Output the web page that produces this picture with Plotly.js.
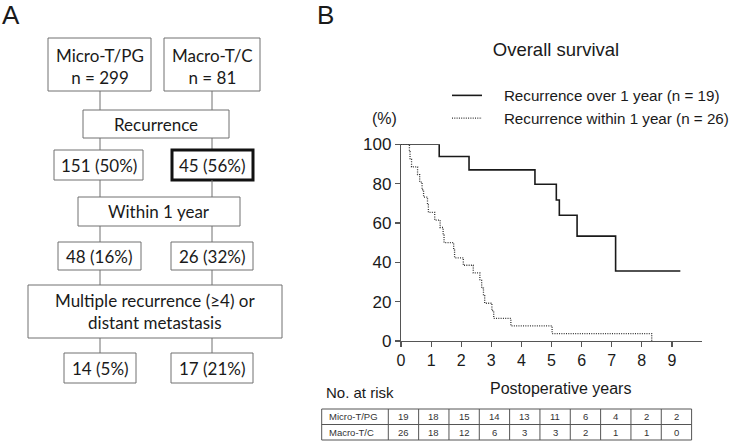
<!DOCTYPE html>
<html><head><meta charset="utf-8">
<script src="https://cdn.plot.ly/plotly-3.0.1.min.js"></script>
<style>html,body{margin:0;padding:0;background:#fff;overflow:hidden}</style>
</head><body><div id="chart" style="width:736px;height:441px"></div>
<script>
// ---- Panel B: Kaplan-Meier data ----
const seriesNames = ['Recurrence over 1 year (n = 19)', 'Recurrence within 1 year (n = 26)'];
const overTimes = [0, 1.27, 2.26, 4.45, 5.16, 5.26, 5.85, 7.13, 9.28];
const overSurv = [100, 93.8, 87.0, 79.7, 71.7, 63.9, 53.3, 35.6, 35.6];
const withinTimes = [0, 0.28, 0.30, 0.35, 0.55, 0.62, 0.70, 0.75, 0.88, 0.91, 1.12, 1.30, 1.40, 1.43, 1.75, 1.78, 2.07, 2.40, 2.62, 2.68, 2.74, 2.78, 3.02, 3.08, 3.65, 5.02, 8.33];
const withinSurv = [100, 96.2, 92.3, 88.5, 84.6, 80.8, 76.9, 73.1, 69.2, 65.4, 61.5, 57.7, 53.8, 50.0, 46.2, 42.3, 38.5, 34.6, 30.8, 26.9, 23.1, 19.2, 15.4, 11.5, 7.7, 3.8, 0];
const xTicks = [0, 1, 2, 3, 4, 5, 6, 7, 8, 9];
const yTicks = [0, 20, 40, 60, 80, 100];

// ---- Number at risk table ----
const riskRowLabels = ['Micro-T/PG', 'Macro-T/C'];
const riskMicro = [19, 18, 15, 14, 13, 11, 6, 4, 2, 2];
const riskMacro = [26, 18, 12, 6, 3, 3, 2, 1, 1, 0];

// ---- Panel A: flowchart data ----
const groups = ['Micro-T/PG', 'Macro-T/C'];
const groupN = [299, 81];
const stageLabels = ['Recurrence', 'Within 1 year', 'Multiple recurrence (≥4) or<br>distant metastasis'];
const stageCounts = [[151, 45], [48, 26], [14, 17]];
const stagePct = [[50, 56], [16, 32], [5, 21]];

const AR = 'Liberation Sans, Arial, sans-serif';
const CAL = 'Lato, Open Sans, sans-serif';
const PAD = '\u00a0\u00a0\u00a0\u00a0';
const shapes = [], ann = [];
function rect(x0, y0, x1, y1, w, c) {
  shapes.push({type:'rect', xref:'x2', yref:'y2', x0, y0, x1, y1, line:{color:c||'#707070', width:w||1}, fillcolor:'rgba(0,0,0,0)'});
}
function seg(x0, y0, x1, y1, c, w) {
  shapes.push({type:'line', xref:'x2', yref:'y2', x0, y0, x1, y1, line:{color:c||'#707070', width:w||1}});
}
function txt(x, y, t, size, fam, anchor, color) {
  ann.push({xref:'x2', yref:'y2', x, y, text:t, showarrow:false, xanchor:anchor||'center', yanchor:'middle',
            font:{size, family:fam, color:color||'#1a1a1a'}});
}

// Panel letters
txt(11, 15, 'A', 26, AR);
txt(325, 15, 'B', 26, AR);

// Flowchart geometry (layout only)
const colX = [100, 212];
const topBoxes = [[48, 151], [164, 260]];
const stageBoxes = [[83, 229, 110, 138], [78, 240, 197, 226], [28, 282, 285, 338]];
const countBoxes = [[[54, 143], [172, 253]], [[58, 141], [171, 253]], [[64, 136], [171, 253]]];
const countY = [[150, 180], [242, 270], [353, 383]];

for (let g = 0; g < 2; g++) {
  rect(topBoxes[g][0], 38, topBoxes[g][1], 91);
  txt((topBoxes[g][0] + topBoxes[g][1]) / 2, 66, groups[g] + '<br>n = ' + groupN[g], 17, CAL);
}
for (let s = 0; s < 3; s++) {
  const b = stageBoxes[s];
  rect(b[0], b[2], b[1], b[3]);
  txt((b[0] + b[1]) / 2, (b[2] + b[3]) / 2, stageLabels[s], 17, CAL);
  const prevBottom = s === 0 ? 91 : countY[s - 1][1];
  for (let g = 0; g < 2; g++) {
    seg(colX[g], prevBottom, colX[g], b[2]);
    seg(colX[g], b[3], colX[g], countY[s][0]);
    const cb = countBoxes[s][g];
    const thick = (s === 0 && g === 1);
    rect(cb[0], countY[s][0], cb[1], countY[s][1], thick ? 3 : 1, thick ? '#111' : '#707070');
    txt((cb[0] + cb[1]) / 2, (countY[s][0] + countY[s][1]) / 2, stageCounts[s][g] + ' (' + stagePct[s][g] + '%)', 17, CAL);
  }
}

// Panel B texts
txt(384, 118, '(%)', 16, AR);
txt(560, 388, 'Postoperative years', 16, AR);
txt(324, 392, 'No. at risk', 15, AR, 'left');

// Risk table
const tL = 321.7, tC0 = 388.3, cw = 30.33, tT = 409, tM = 424.5, tB = 440;
rect(tL, tT, tC0 + cw * 10, tB, 1, '#555');
seg(tL, tM, tC0 + cw * 10, tM, '#555');
for (let k = 0; k < 10; k++) seg(tC0 + cw * k, tT, tC0 + cw * k, tB, '#555');
[riskMicro, riskMacro].forEach((row, r) => {
  const yc = r === 0 ? (tT + tM) / 2 : (tM + tB) / 2;
  txt(327, yc, riskRowLabels[r], 9.5, AR, 'left', '#333');
  row.forEach((v, k) => txt(tC0 + cw * (k + 0.5), yc, String(v), 9.5, AR, 'center', '#333'));
});

const traces = [
  {x: overTimes, y: overSurv, type:'scatter', mode:'lines', line:{shape:'hv', color:'#1a1a1a', width:1.6},
   name: PAD + seriesNames[0], cliponaxis:false, hoverinfo:'skip'},
  {x: withinTimes, y: withinSurv, type:'scatter', mode:'lines', line:{shape:'hv', color:'#333', width:1.3, dash:'1px,1.3px'},
   name: PAD + seriesNames[1], cliponaxis:false, hoverinfo:'skip'},
  {x: [], y: [], xaxis:'x2', yaxis:'y2', showlegend:false, hoverinfo:'skip', type:'scatter'}
];

const axStyle = {showgrid:false, zeroline:false, showline:true, linecolor:'#555', linewidth:1.2,
  ticks:'outside', ticklen:5, tickcolor:'#555', tickwidth:1.2};
const layout = {
  width:736, height:441, margin:{l:0, r:0, t:0, b:0, autoexpand:false}, paper_bgcolor:'#fff', plot_bgcolor:'rgba(0,0,0,0)',
  title:{text:'Overall survival', x:556/736, y:1 - 50/441, xanchor:'center', yanchor:'middle', xref:'paper', yref:'paper',
         font:{size:18.5, family:AR, color:'#1a1a1a'}},
  showlegend:true,
  legend:{x:447/736, y:1 - 79/441, xanchor:'left', yanchor:'top', bgcolor:'rgba(0,0,0,0)', itemwidth:30,
          font:{size:15.2, family:AR, color:'#1a1a1a'}},
  xaxis: Object.assign({}, axStyle, {domain:[401/736, 702/736], range:[0, 10], anchor:'y', tickvals:xTicks,
          tickfont:{size:16, family:AR, color:'#1a1a1a'}}),
  yaxis: Object.assign({}, axStyle, {domain:[(441 - 341)/441, (441 - 144.3)/441], range:[0, 100], anchor:'x', tickvals:yTicks,
          tickfont:{size:17, family:AR, color:'#1a1a1a'}}),
  xaxis2:{domain:[0, 1], range:[0, 736], visible:false, anchor:'y2', fixedrange:true},
  yaxis2:{domain:[0, 1], range:[441, 0], visible:false, anchor:'x2', fixedrange:true},
  shapes, annotations: ann
};
Plotly.newPlot('chart', traces, layout, {staticPlot:true});
</script></body></html>
